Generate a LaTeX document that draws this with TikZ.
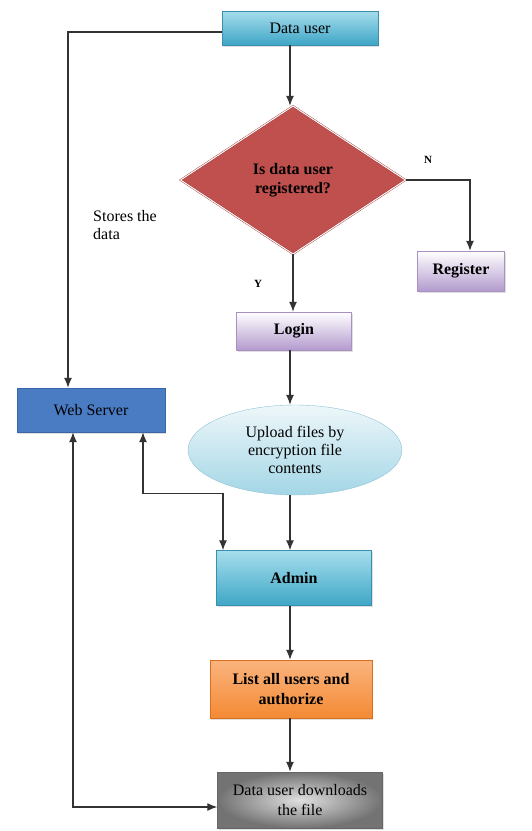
\documentclass[tikz,border=0pt]{standalone}
\usepackage{fontspec}
\setmainfont{Liberation Serif}
\usepackage{tikz}
\usetikzlibrary{arrows,arrows.meta,shapes,shapes.geometric,positioning,shadows}
\definecolor{cyantop}{HTML}{A6DDEC}
\definecolor{cyanbot}{HTML}{3EA6C6}
\definecolor{cyanline}{HTML}{3A8FAE}
\definecolor{redfill}{HTML}{C0504D}
\definecolor{redline}{HTML}{9E3532}
\definecolor{lilac}{HTML}{B39BCE}
\definecolor{lilacline}{HTML}{A891C2}
\definecolor{serverblue}{HTML}{4A7CC4}
\definecolor{serverline}{HTML}{3A66A8}
\definecolor{icetop}{HTML}{EEF7FA}
\definecolor{icebot}{HTML}{A3D6E6}
\definecolor{iceline}{HTML}{8EC3D6}
\definecolor{orangetop}{HTML}{FAB47E}
\definecolor{orangebot}{HTML}{F48A34}
\definecolor{orangeline}{HTML}{D96F1C}
\begin{document}
\begin{tikzpicture}[x=1pt,y=-1pt,
    font=\fontsize{16}{18}\selectfont,
    box/.style={rectangle,inner sep=0pt,align=center,drop shadow={opacity=0.25,shadow xshift=1pt,shadow yshift=-1.5pt}},
    cyanbox/.style={box,draw=cyanline,top color=cyantop,bottom color=cyanbot},
    lilacbox/.style={box,draw=lilacline,top color=white,bottom color=lilac,font=\fontsize{16}{18}\selectfont\bfseries},
    arrow/.style={draw=black!80,line width=1.3pt,-{Latex[length=10pt,width=8pt]}},
    dblarrow/.style={draw=black!80,line width=1.3pt,{Latex[length=10pt,width=8pt]}-{Latex[length=10pt,width=8pt]}},
    tag/.style={font=\fontsize{11}{13}\selectfont\bfseries}]
\useasboundingbox (0,0) rectangle (531,831);
\node[cyanbox,minimum width=156pt,minimum height=34pt] (user) at (300,28) {Data user};
\node[diamond,draw=redline,double=white,double distance=1pt,fill=redfill,minimum width=225pt,minimum height=148pt,inner sep=0pt,align=center,font=\fontsize{16}{19}\selectfont\bfseries] (decide) at (293,180) {Is data user\\ registered?};
\node[lilacbox,minimum width=87pt,minimum height=40pt] (reg) at (461,271) {Register};
\node[lilacbox,minimum width=115pt,minimum height=38pt] (login) at (294,331) {Login};
\node[ellipse,draw=iceline,top color=icetop,bottom color=icebot,minimum width=214pt,minimum height=90pt,inner sep=0pt,align=center] (upload) at (295,450) {Upload files by\\ encryption file\\ contents};
\node[box,draw=serverline,fill=serverblue,minimum width=148pt,minimum height=44pt] (server) at (91,410) {Web Server};
\node[cyanbox,minimum width=155pt,minimum height=55pt,font=\fontsize{16}{18}\selectfont\bfseries] (admin) at (294,578) {Admin};
\node[box,draw=orangeline,top color=orangetop,bottom color=orangebot,minimum width=162pt,minimum height=58pt,font=\fontsize{16}{20}\selectfont\bfseries] (list) at (291,689) {List all users and\\ authorize};
\node[box,draw=black!60,inner color=black!12,outer color=black!55,minimum width=165pt,minimum height=56pt,font=\fontsize{16}{20}\selectfont] (down) at (300,800) {Data user downloads\\ the file};
\node[align=left] (stores) at (125,225) {Stores the\\ data};
\node[tag] (no) at (428,160) {N};
\node[tag] (yes) at (258,284) {Y};
\draw[arrow] ([xshift=-10pt]user.south) -- ([xshift=-10pt]user.south |- decide.north);
\draw[arrow] ([yshift=-4pt]user.west) -| ([xshift=-23pt]server.north);
\draw[arrow] (decide.east) -| ([xshift=9pt]reg.north);
\draw[arrow] (decide.south) -- (decide.south |- login.north);
\draw[arrow] ([xshift=-4pt]login.south) -- ([xshift=-4pt]login.south |- upload.north);
\draw[arrow] ([xshift=-5pt]upload.south) -- ([xshift=-5pt]upload.south |- admin.north);
\draw[dblarrow] ([xshift=52pt]server.south) -- ++(0,61) -| ([xshift=-71pt]admin.north);
\draw[arrow] ([xshift=-4pt]admin.south) -- ([xshift=-4pt]admin.south |- list.north);
\draw[arrow] ([xshift=-1pt]list.south) -- ([xshift=-1pt]list.south |- down.north);
\draw[dblarrow] ([xshift=-18pt]server.south) |- ([yshift=-7pt]down.west);
\end{tikzpicture}
\end{document}
